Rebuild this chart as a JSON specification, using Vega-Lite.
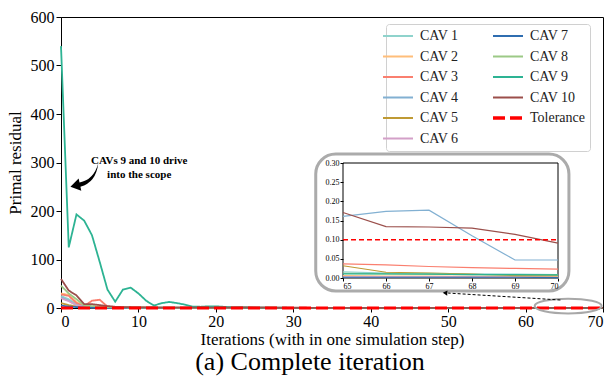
{
  "$schema": "https://vega.github.io/schema/vega-lite/v6.json",
  "width": 542,
  "height": 291,
  "autosize": {"type": "none"},
  "padding": {"left": 61, "top": 17, "right": 6, "bottom": 71},
  "title": {"text": "(a) Complete iteration", "orient": "bottom", "fontSize": 26, "fontWeight": "normal", "font": "Liberation Serif", "color": "#000", "offset": 2, "dx": -22},
  "config": {
    "font": "Liberation Serif",
    "view": {"stroke": "black", "strokeWidth": 1},
    "axis": {"grid": false, "domainColor": "black", "tickColor": "black", "labelColor": "black", "titleColor": "black", "labelFont": "Liberation Serif", "titleFont": "Liberation Serif", "titleFontWeight": "normal"},
    "legend": {
      "orient": "none", "legendX": 325, "legendY": 7, "columns": 2,
      "symbolType": "stroke", "symbolSize": 900, "symbolStrokeWidth": 2,
      "labelFont": "Liberation Serif", "labelFontSize": 14, "labelColor": "#222", "labelOffset": 15,
      "rowPadding": 6.5, "columnPadding": 27, "padding": 5,
      "fillColor": "white", "strokeColor": "#d0d0d0", "cornerRadius": 3, "title": null
    }
  },
  "datasets": {
    "res": [
      {"it": 0, "CAV 1": 25, "CAV 2": 30, "CAV 3": 28, "CAV 4": 22, "CAV 5": 10, "CAV 6": 20, "CAV 7": 5, "CAV 8": 46, "CAV 9": 540, "CAV 10": 60, "Tolerance": 0.1},
      {"it": 1, "CAV 1": 18, "CAV 2": 27, "CAV 3": 25, "CAV 4": 15, "CAV 5": 6, "CAV 6": 14, "CAV 7": 3, "CAV 8": 30, "CAV 9": 125, "CAV 10": 36, "Tolerance": 0.1},
      {"it": 2, "CAV 1": 8, "CAV 2": 12, "CAV 3": 10, "CAV 4": 6, "CAV 5": 3, "CAV 6": 6, "CAV 7": 2, "CAV 8": 18, "CAV 9": 193, "CAV 10": 26, "Tolerance": 0.1},
      {"it": 3, "CAV 1": 3, "CAV 2": 4, "CAV 3": 4, "CAV 4": 3, "CAV 5": 2, "CAV 6": 2, "CAV 7": 1, "CAV 8": 5, "CAV 9": 180, "CAV 10": 8, "Tolerance": 0.1},
      {"it": 4, "CAV 1": 2, "CAV 2": 3, "CAV 3": 15, "CAV 4": 2, "CAV 5": 1.5, "CAV 6": 1.5, "CAV 7": 0.8, "CAV 8": 4, "CAV 9": 150, "CAV 10": 8, "Tolerance": 0.1},
      {"it": 5, "CAV 1": 1.5, "CAV 2": 2, "CAV 3": 17, "CAV 4": 1.5, "CAV 5": 1.2, "CAV 6": 1.2, "CAV 7": 0.6, "CAV 8": 3, "CAV 9": 95, "CAV 10": 6, "Tolerance": 0.1},
      {"it": 6, "CAV 1": 1.2, "CAV 2": 1.5, "CAV 3": 3, "CAV 4": 1.2, "CAV 5": 1, "CAV 6": 1, "CAV 7": 0.5, "CAV 8": 2, "CAV 9": 38, "CAV 10": 4, "Tolerance": 0.1},
      {"it": 7, "CAV 1": 1, "CAV 2": 1.2, "CAV 3": 2, "CAV 4": 1, "CAV 5": 0.8, "CAV 6": 0.8, "CAV 7": 0.4, "CAV 8": 1.5, "CAV 9": 13, "CAV 10": 2.5, "Tolerance": 0.1},
      {"it": 8, "CAV 1": 0.9, "CAV 2": 1, "CAV 3": 1.5, "CAV 4": 0.9, "CAV 5": 0.7, "CAV 6": 0.7, "CAV 7": 0.3, "CAV 8": 1.2, "CAV 9": 38, "CAV 10": 1.8, "Tolerance": 0.1},
      {"it": 9, "CAV 1": 0.8, "CAV 2": 0.9, "CAV 3": 1.2, "CAV 4": 0.8, "CAV 5": 0.6, "CAV 6": 0.6, "CAV 7": 0.3, "CAV 8": 1, "CAV 9": 42, "CAV 10": 1.5, "Tolerance": 0.1},
      {"it": 10, "CAV 1": 0.7, "CAV 2": 0.8, "CAV 3": 1, "CAV 4": 0.7, "CAV 5": 0.5, "CAV 6": 0.5, "CAV 7": 0.25, "CAV 8": 0.9, "CAV 9": 30, "CAV 10": 1.2, "Tolerance": 0.1},
      {"it": 11, "CAV 1": 0.6, "CAV 2": 0.7, "CAV 3": 0.9, "CAV 4": 0.7, "CAV 5": 0.45, "CAV 6": 0.4, "CAV 7": 0.2, "CAV 8": 0.8, "CAV 9": 15, "CAV 10": 1.1, "Tolerance": 0.1},
      {"it": 12, "CAV 1": 0.5, "CAV 2": 0.6, "CAV 3": 0.8, "CAV 4": 0.6, "CAV 5": 0.4, "CAV 6": 0.35, "CAV 7": 0.2, "CAV 8": 0.7, "CAV 9": 5, "CAV 10": 1, "Tolerance": 0.1},
      {"it": 13, "CAV 1": 0.5, "CAV 2": 0.6, "CAV 3": 0.7, "CAV 4": 0.6, "CAV 5": 0.4, "CAV 6": 0.3, "CAV 7": 0.15, "CAV 8": 0.6, "CAV 9": 10, "CAV 10": 0.9, "Tolerance": 0.1},
      {"it": 14, "CAV 1": 0.4, "CAV 2": 0.5, "CAV 3": 0.6, "CAV 4": 0.6, "CAV 5": 0.35, "CAV 6": 0.3, "CAV 7": 0.15, "CAV 8": 0.5, "CAV 9": 12.5, "CAV 10": 0.9, "Tolerance": 0.1},
      {"it": 15, "CAV 1": 0.4, "CAV 2": 0.5, "CAV 3": 0.6, "CAV 4": 0.6, "CAV 5": 0.3, "CAV 6": 0.25, "CAV 7": 0.12, "CAV 8": 0.5, "CAV 9": 10, "CAV 10": 0.8, "Tolerance": 0.1},
      {"it": 16, "CAV 1": 0.35, "CAV 2": 0.5, "CAV 3": 0.5, "CAV 4": 0.55, "CAV 5": 0.3, "CAV 6": 0.2, "CAV 7": 0.1, "CAV 8": 0.4, "CAV 9": 7, "CAV 10": 0.8, "Tolerance": 0.1},
      {"it": 17, "CAV 1": 0.3, "CAV 2": 0.5, "CAV 3": 0.5, "CAV 4": 0.55, "CAV 5": 0.3, "CAV 6": 0.2, "CAV 7": 0.1, "CAV 8": 0.4, "CAV 9": 3, "CAV 10": 0.8, "Tolerance": 0.1},
      {"it": 18, "CAV 1": 0.3, "CAV 2": 0.6, "CAV 3": 0.5, "CAV 4": 0.5, "CAV 5": 0.25, "CAV 6": 0.2, "CAV 7": 0.1, "CAV 8": 0.35, "CAV 9": 2.5, "CAV 10": 0.7, "Tolerance": 0.1},
      {"it": 19, "CAV 1": 0.3, "CAV 2": 0.8, "CAV 3": 0.5, "CAV 4": 0.5, "CAV 5": 0.25, "CAV 6": 0.15, "CAV 7": 0.08, "CAV 8": 0.3, "CAV 9": 3.5, "CAV 10": 0.7, "Tolerance": 0.1},
      {"it": 20, "CAV 1": 0.25, "CAV 2": 0.8, "CAV 3": 0.5, "CAV 4": 0.5, "CAV 5": 0.25, "CAV 6": 0.15, "CAV 7": 0.08, "CAV 8": 0.3, "CAV 9": 3.5, "CAV 10": 0.7, "Tolerance": 0.1},
      {"it": 21, "CAV 1": 0.25, "CAV 2": 0.6, "CAV 3": 0.5, "CAV 4": 0.5, "CAV 5": 0.2, "CAV 6": 0.12, "CAV 7": 0.07, "CAV 8": 0.3, "CAV 9": 2.5, "CAV 10": 0.7, "Tolerance": 0.1},
      {"it": 22, "CAV 1": 0.2, "CAV 2": 1, "CAV 3": 0.8, "CAV 4": 0.5, "CAV 5": 0.2, "CAV 6": 0.1, "CAV 7": 0.06, "CAV 8": 0.25, "CAV 9": 1.5, "CAV 10": 0.65, "Tolerance": 0.1},
      {"it": 23, "CAV 1": 0.2, "CAV 2": 2, "CAV 3": 1.5, "CAV 4": 0.5, "CAV 5": 0.2, "CAV 6": 0.1, "CAV 7": 0.06, "CAV 8": 0.25, "CAV 9": 1.2, "CAV 10": 0.65, "Tolerance": 0.1},
      {"it": 24, "CAV 1": 0.2, "CAV 2": 2, "CAV 3": 1.5, "CAV 4": 0.5, "CAV 5": 0.2, "CAV 6": 0.1, "CAV 7": 0.05, "CAV 8": 0.2, "CAV 9": 1, "CAV 10": 0.6, "Tolerance": 0.1},
      {"it": 25, "CAV 1": 0.2, "CAV 2": 1, "CAV 3": 0.8, "CAV 4": 0.5, "CAV 5": 0.2, "CAV 6": 0.1, "CAV 7": 0.05, "CAV 8": 0.2, "CAV 9": 0.8, "CAV 10": 0.6, "Tolerance": 0.1},
      {"it": 30, "CAV 1": 0.1, "CAV 2": 0.1, "CAV 3": 0.2, "CAV 4": 0.4, "CAV 5": 0.15, "CAV 6": 0.05, "CAV 7": 0.03, "CAV 8": 0.1, "CAV 9": 0.4, "CAV 10": 0.5, "Tolerance": 0.1},
      {"it": 35, "CAV 1": 0.07, "CAV 2": 0.07, "CAV 3": 0.15, "CAV 4": 0.35, "CAV 5": 0.1, "CAV 6": 0.03, "CAV 7": 0.02, "CAV 8": 0.07, "CAV 9": 0.2, "CAV 10": 0.4, "Tolerance": 0.1},
      {"it": 40, "CAV 1": 0.05, "CAV 2": 0.05, "CAV 3": 0.1, "CAV 4": 0.3, "CAV 5": 0.08, "CAV 6": 0.02, "CAV 7": 0.01, "CAV 8": 0.05, "CAV 9": 0.1, "CAV 10": 0.35, "Tolerance": 0.1},
      {"it": 45, "CAV 1": 0.04, "CAV 2": 0.03, "CAV 3": 0.08, "CAV 4": 0.25, "CAV 5": 0.06, "CAV 6": 0.015, "CAV 7": 0.008, "CAV 8": 0.04, "CAV 9": 0.06, "CAV 10": 0.3, "Tolerance": 0.1},
      {"it": 50, "CAV 1": 0.03, "CAV 2": 0.02, "CAV 3": 0.06, "CAV 4": 0.22, "CAV 5": 0.05, "CAV 6": 0.01, "CAV 7": 0.005, "CAV 8": 0.03, "CAV 9": 0.04, "CAV 10": 0.25, "Tolerance": 0.1},
      {"it": 55, "CAV 1": 0.025, "CAV 2": 0.015, "CAV 3": 0.05, "CAV 4": 0.2, "CAV 5": 0.045, "CAV 6": 0.007, "CAV 7": 0.004, "CAV 8": 0.025, "CAV 9": 0.03, "CAV 10": 0.22, "Tolerance": 0.1},
      {"it": 60, "CAV 1": 0.02, "CAV 2": 0.01, "CAV 3": 0.045, "CAV 4": 0.18, "CAV 5": 0.04, "CAV 6": 0.005, "CAV 7": 0.003, "CAV 8": 0.02, "CAV 9": 0.02, "CAV 10": 0.2, "Tolerance": 0.1},
      {"it": 65, "CAV 1": 0.016, "CAV 2": 0.006, "CAV 3": 0.037, "CAV 4": 0.161, "CAV 5": 0.032, "CAV 6": 0.003, "CAV 7": 0.002, "CAV 8": 0.012, "CAV 9": 0.011, "CAV 10": 0.171, "Tolerance": 0.1},
      {"it": 66, "CAV 1": 0.013, "CAV 2": 0.005, "CAV 3": 0.034, "CAV 4": 0.174, "CAV 5": 0.015, "CAV 6": 0.003, "CAV 7": 0.002, "CAV 8": 0.011, "CAV 9": 0.011, "CAV 10": 0.134, "Tolerance": 0.1},
      {"it": 67, "CAV 1": 0.012, "CAV 2": 0.005, "CAV 3": 0.03, "CAV 4": 0.177, "CAV 5": 0.013, "CAV 6": 0.003, "CAV 7": 0.002, "CAV 8": 0.01, "CAV 9": 0.01, "CAV 10": 0.133, "Tolerance": 0.1},
      {"it": 68, "CAV 1": 0.011, "CAV 2": 0.004, "CAV 3": 0.027, "CAV 4": 0.11, "CAV 5": 0.01, "CAV 6": 0.003, "CAV 7": 0.002, "CAV 8": 0.009, "CAV 9": 0.009, "CAV 10": 0.13, "Tolerance": 0.1},
      {"it": 69, "CAV 1": 0.01, "CAV 2": 0.004, "CAV 3": 0.025, "CAV 4": 0.047, "CAV 5": 0.006, "CAV 6": 0.002, "CAV 7": 0.002, "CAV 8": 0.009, "CAV 9": 0.009, "CAV 10": 0.114, "Tolerance": 0.1},
      {"it": 70, "CAV 1": 0.009, "CAV 2": 0.004, "CAV 3": 0.023, "CAV 4": 0.047, "CAV 5": 0.006, "CAV 6": 0.002, "CAV 7": 0.001, "CAV 8": 0.008, "CAV 9": 0.008, "CAV 10": 0.091, "Tolerance": 0.1}
    ]
  },
  "layer": [
    {
      "layer": [
        {
          "data": {"name": "res"},
          "transform": [
            {"fold": ["CAV 1", "CAV 2", "CAV 3", "CAV 4", "CAV 5", "CAV 6", "CAV 7", "CAV 8", "CAV 9", "CAV 10", "Tolerance"], "as": ["series", "value"]},
            {"filter": "datum.series !== 'Tolerance'"}
          ],
          "mark": {"type": "line", "strokeWidth": 1.8},
          "encoding": {
            "x": {"field": "it", "type": "quantitative", "scale": {"domain": [0, 70], "nice": false, "zero": false},
                  "axis": {"values": [0, 10, 20, 30, 40, 50, 60, 70], "labelFont": "Liberation Serif", "labelFontSize": 16, "tickSize": 4, "labelPadding": 1, "title": "Iterations (with in one simulation step)", "titleFont": "Liberation Serif", "titleFontSize": 17, "titlePadding": 2}},
            "y": {"field": "value", "type": "quantitative", "scale": {"domain": [0, 600], "nice": false},
                  "axis": {"values": [0, 100, 200, 300, 400, 500, 600], "labelFont": "Liberation Serif", "labelFontSize": 16, "tickSize": 5, "labelPadding": 2, "title": "Primal residual", "titleFont": "Liberation Serif", "titleFontSize": 17, "titlePadding": 6}},
            "color": {"field": "series", "type": "nominal",
                      "scale": {"domain": ["CAV 1", "CAV 2", "CAV 3", "CAV 4", "CAV 5", "CAV 6", "CAV 7", "CAV 8", "CAV 9", "CAV 10", "Tolerance"],
                                "range": ["#8fd3cc", "#ffbe7a", "#fa7f6f", "#82b0d2", "#bf9a34", "#d3a0c8", "#2f6db0", "#9cc986", "#2db393", "#9b4f4b", "#ff0000"]},
                      "legend": {"encode": {"symbols": {"update": {"strokeWidth": {"signal": "datum.value === 'Tolerance' ? 3.5 : 2"}}}}}},
            "strokeDash": {"field": "series", "type": "nominal",
                      "scale": {"domain": ["CAV 1", "CAV 2", "CAV 3", "CAV 4", "CAV 5", "CAV 6", "CAV 7", "CAV 8", "CAV 9", "CAV 10", "Tolerance"],
                                "range": [[1, 0], [1, 0], [1, 0], [1, 0], [1, 0], [1, 0], [1, 0], [1, 0], [1, 0], [1, 0], [12, 5]]}}
          }
        },
        {
          "data": {"name": "res"},
          "transform": [
            {"fold": ["CAV 1", "CAV 2", "CAV 3", "CAV 4", "CAV 5", "CAV 6", "CAV 7", "CAV 8", "CAV 9", "CAV 10", "Tolerance"], "as": ["series", "value"]},
            {"filter": "datum.series === 'Tolerance'"}
          ],
          "mark": {"type": "line", "strokeWidth": 3},
          "encoding": {
            "x": {"field": "it", "type": "quantitative"},
            "y": {"field": "value", "type": "quantitative"},
            "color": {"field": "series", "type": "nominal", "scale": {"domain": ["CAV 1", "CAV 2", "CAV 3", "CAV 4", "CAV 5", "CAV 6", "CAV 7", "CAV 8", "CAV 9", "CAV 10", "Tolerance"]}},
            "strokeDash": {"field": "series", "type": "nominal", "scale": {"domain": ["CAV 1", "CAV 2", "CAV 3", "CAV 4", "CAV 5", "CAV 6", "CAV 7", "CAV 8", "CAV 9", "CAV 10", "Tolerance"]}}
          }
        },
        {
          "data": {"values": [{}]},
          "mark": {"type": "rect", "fill": "white", "stroke": "#ababab", "strokeWidth": 3, "cornerRadius": 20},
          "encoding": {
            "x": {"datum": 32.9, "type": "quantitative"}, "x2": {"datum": 65.6},
            "y": {"datum": 317.5, "type": "quantitative"}, "y2": {"datum": 35}
          }
        },
        {
          "data": {"values": [{}]},
          "mark": {"type": "point", "shape": "M-1,0A1,0.22,0,1,0,1,0A1,0.22,0,1,0,-1,0Z", "size": 4489, "filled": false, "stroke": "#a8a8a8", "strokeWidth": 2, "opacity": 1},
          "encoding": {"x": {"datum": 65.5, "type": "quantitative"}, "y": {"datum": 4, "type": "quantitative"}}
        },
        {
          "data": {"values": [{}]},
          "mark": {"type": "rule", "color": "black", "strokeWidth": 1, "strokeDash": [3, 2]},
          "encoding": {
            "x": {"datum": 64.5, "type": "quantitative"}, "x2": {"datum": 50.0},
            "y": {"datum": 16.5, "type": "quantitative"}, "y2": {"datum": 30.8}
          }
        },
        {
          "data": {"values": [{}]},
          "mark": {"type": "point", "shape": "triangle-left", "size": 28, "filled": true, "color": "black", "angle": 3, "opacity": 1},
          "encoding": {"x": {"datum": 49.6, "type": "quantitative"}, "y": {"datum": 31, "type": "quantitative"}}
        },
        {
          "data": {"values": [{}]},
          "mark": {"type": "point", "shape": "M0.95,-0.84Q0.78,0.55,-0.328,0.827L-0.265,1.12L-1.04,0.83L-0.455,0.24L-0.392,0.533Q0.62,0.35,0.95,-0.84Z", "size": 784, "filled": true, "color": "black", "opacity": 1},
          "encoding": {"x": {"datum": 3.1, "type": "quantitative"}, "y": {"datum": 274, "type": "quantitative"}}
        },
        {
          "data": {"values": [{}]},
          "mark": {"type": "text", "text": ["CAVs 9 and 10 drive", "into the scope"], "font": "Liberation Serif", "fontWeight": "bold", "fontSize": 11, "lineHeight": 14, "align": "center", "baseline": "middle", "color": "black"},
          "encoding": {"x": {"datum": 10.1, "type": "quantitative"}, "y": {"datum": 304, "type": "quantitative"}}
        }
      ]
    },
    {
      "layer": [
        {
          "data": {"values": [{}]},
          "mark": {"type": "rect", "fill": "white", "stroke": "black", "strokeWidth": 1},
          "encoding": {
            "x": {"datum": 65, "type": "quantitative"}, "x2": {"datum": 70},
            "y": {"datum": 0, "type": "quantitative"}, "y2": {"datum": 0.3}
          }
        },
        {
          "data": {"name": "res"},
          "transform": [
            {"fold": ["CAV 1", "CAV 2", "CAV 3", "CAV 4", "CAV 5", "CAV 6", "CAV 7", "CAV 8", "CAV 9", "CAV 10", "Tolerance"], "as": ["series", "value"]},
            {"filter": "datum.it >= 65 && datum.series !== 'Tolerance'"}
          ],
          "mark": {"type": "line", "strokeWidth": 1.2},
          "encoding": {
            "x": {"field": "it", "type": "quantitative", "scale": {"domain": [65, 70], "range": [282, 497], "nice": false, "zero": false},
                  "axis": {"orient": "bottom", "offset": -30, "values": [65, 66, 67, 68, 69, 70], "format": "d", "labelFont": "Liberation Serif", "labelFontSize": 8, "tickSize": 3, "labelPadding": 1, "domain": false, "title": null, "zindex": 2}},
            "y": {"field": "value", "type": "quantitative", "scale": {"domain": [0, 0.3], "range": [261, 146], "nice": false, "zero": false},
                  "axis": {"orient": "left", "offset": -282, "values": [0, 0.05, 0.1, 0.15, 0.2, 0.25, 0.3], "format": ".2f", "labelFont": "Liberation Serif", "labelFontSize": 8, "tickSize": 3, "labelPadding": 1, "domain": false, "title": null, "zindex": 2}},
            "color": {"field": "series", "type": "nominal", "scale": {"domain": ["CAV 1", "CAV 2", "CAV 3", "CAV 4", "CAV 5", "CAV 6", "CAV 7", "CAV 8", "CAV 9", "CAV 10", "Tolerance"]}}
          }
        },
        {
          "data": {"values": [{}]},
          "mark": {"type": "rule", "color": "#ff0000", "strokeWidth": 1.5, "strokeDash": [5, 3]},
          "encoding": {
            "x": {"datum": 65, "type": "quantitative"}, "x2": {"datum": 70},
            "y": {"datum": 0.1, "type": "quantitative"}
          }
        }
      ]
    }
  ],
  "resolve": {"scale": {"x": "independent", "y": "independent"}}
}
